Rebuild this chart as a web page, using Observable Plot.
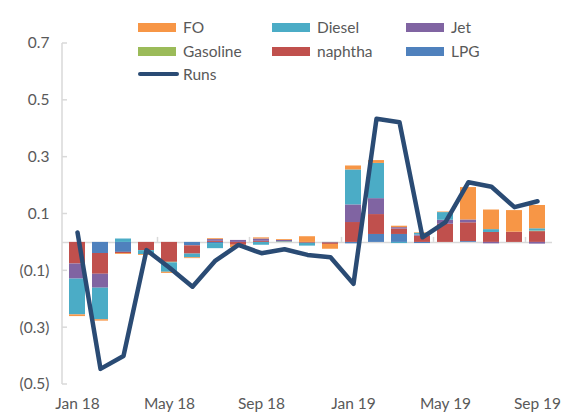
<!DOCTYPE html>
<html>
<head>
<meta charset="utf-8">
<script src="https://cdn.jsdelivr.net/npm/d3@7"></script>
<script src="https://cdn.jsdelivr.net/npm/@observablehq/plot@0.6"></script>
<style>
  html, body { margin: 0; padding: 0; background: #fff; }
  #wrap { position: relative; width: 568px; height: 416px; font-family: Lato, "Open Sans", sans-serif; }
  .leg { position: absolute; display: flex; align-items: center; font-size: 15.5px; color: #595959; white-space: nowrap; }
  .sw { width: 38px; height: 9px; margin-right: 7px; }
  .ln { width: 41px; height: 4px; border-radius: 2px; margin-right: 4px; }
</style>
</head>
<body>
<div id="wrap"></div>
<script>
const months = ["Jan 18","Feb 18","Mar 18","Apr 18","May 18","Jun 18","Jul 18","Aug 18","Sep 18","Oct 18","Nov 18","Dec 18",
                "Jan 19","Feb 19","Mar 19","Apr 19","May 19","Jun 19","Jul 19","Aug 19","Sep 19"];
const xTickLabels = ["Jan 18","May 18","Sep 18","Jan 19","May 19","Sep 19"];
const yTicks = [-0.5, -0.3, -0.1, 0.1, 0.3, 0.5, 0.7];

const LPG      = [0, -0.039, -0.035, 0, 0, -0.012, -0.004, 0, 0, 0.002, 0, -0.002, -0.005, 0.028, 0.028, -0.004, 0, 0.003, 0, 0, 0];
const naphtha  = [-0.076, -0.073, -0.004, -0.029, -0.070, -0.029, 0.004, -0.010, 0.004, 0, -0.003, -0.005, 0.070, 0.070, 0.019, 0.022, 0.064, 0.066, 0.035, 0.036, 0.038];
const Gasoline = [0, 0, 0, 0, -0.002, 0, 0, 0, 0, 0.001, 0, 0, 0, 0, 0, 0, 0, 0, 0, 0, 0.002];
const Jet      = [-0.053, -0.049, 0, 0, 0, 0, 0.006, 0.007, 0.008, 0.004, 0, 0, 0.062, 0.056, 0.005, 0.004, 0.014, 0.010, -0.005, 0, -0.006];
const Diesel   = [-0.126, -0.111, 0.012, -0.014, -0.033, -0.013, -0.018, 0, -0.010, 0, -0.010, 0, 0.123, 0.124, -0.004, 0.006, 0.027, 0, 0.010, 0, 0.008];
const FO       = [-0.006, -0.005, -0.003, -0.003, -0.004, -0.003, 0.003, -0.008, 0.004, 0.003, 0.020, -0.017, 0.014, 0.010, 0.005, 0.002, 0.002, 0.114, 0.069, 0.076, 0.082];
const Runs     = [0.035, -0.445, -0.400, -0.027, -0.089, -0.156, -0.064, -0.009, -0.038, -0.024, -0.044, -0.052, -0.146, 0.435, 0.423, 0.018, 0.071, 0.212, 0.196, 0.124, 0.145];

const stackOrder = ["LPG", "naphtha", "Gasoline", "Jet", "Diesel", "FO"];
const seriesValues = {LPG, naphtha, Gasoline, Jet, Diesel, FO};
const colors = {FO: "#F79646", Diesel: "#4BACC6", Jet: "#8064A2", Gasoline: "#9BBB59", naphtha: "#C0504D", LPG: "#4F81BD"};
const runsColor = "#2A4B74";
const legendOrder = ["FO", "Diesel", "Jet", "Gasoline", "naphtha", "LPG", "Runs"];

const table = [];
for (const s of stackOrder) months.forEach((m, i) => table.push({month: m, series: s, value: seriesValues[s][i]}));
const runsTable = months.map((m, i) => ({month: m, value: Runs[i]}));

const fmt = d => d < 0 ? `(${Math.abs(d).toFixed(1)})` : d.toFixed(1);

const chart = Plot.plot({
  width: 568, height: 416,
  marginLeft: 62, marginRight: 16, marginTop: 43, marginBottom: 32,
  style: {fontFamily: "Lato, 'Open Sans', sans-serif", fontSize: "15.5px", color: "#595959", background: "white"},
  x: {domain: months, paddingInner: 0.31, paddingOuter: 0.155, axis: null, label: null},
  y: {domain: [-0.5, 0.7], axis: null, label: null},
  color: {domain: Object.keys(colors), range: Object.values(colors)},
  marks: [
    Plot.ruleY([0], {stroke: "#d9d9d9", strokeWidth: 1.5}),
    Plot.barY(table, {x: "month", y: "value", fill: "series", order: stackOrder}),
    Plot.line(runsTable, {x: "month", y: "value", stroke: runsColor, strokeWidth: 4.5}),
    Plot.axisY(yTicks, {anchor: "left", label: null, tickSize: 0, tickPadding: 13, tickFormat: fmt, fill: "#595959", fontSize: 15.5}),
    Plot.axisX(xTickLabels, {anchor: "bottom", label: null, tickSize: 0, tickPadding: 13, fill: "#595959", fontSize: 15.5})
  ]
});

// axis lines and inside ticks, placed through the chart's own scales
const xs = chart.scale("x"), ys = chart.scale("y");
const x0 = xs.range[0];
const g = d3.select(chart).insert("g", ":first-child").attr("stroke", "#d9d9d9").attr("stroke-width", 1.5);
g.append("line").attr("x1", x0).attr("x2", x0).attr("y1", ys.apply(yTicks[0])).attr("y2", ys.apply(yTicks[yTicks.length - 1]));
for (const t of yTicks) g.append("line").attr("x1", x0).attr("x2", x0 + 5).attr("y1", ys.apply(t)).attr("y2", ys.apply(t));
const gap = (xs.step - xs.bandwidth) / 2;
months.forEach((m, i) => {
  if (i % 4 === 3 && i < months.length - 1) {
    const bx = xs.apply(m) + xs.bandwidth + gap;
    g.append("line").attr("x1", bx).attr("x2", bx).attr("y1", ys.apply(0) - 5).attr("y2", ys.apply(0));
  }
});

const wrap = document.getElementById("wrap");
wrap.appendChild(chart);

const colX = [138, 272, 406], rowY = [27, 51, 74];
legendOrder.forEach((name, i) => {
  const d = document.createElement("div");
  d.className = "leg";
  d.style.left = colX[i % 3] + "px";
  d.style.top = (rowY[Math.floor(i / 3)] - 10) + "px";
  d.style.height = "20px";
  const sw = document.createElement("div");
  if (name === "Runs") { sw.className = "ln"; sw.style.background = runsColor; }
  else { sw.className = "sw"; sw.style.background = colors[name]; }
  d.appendChild(sw);
  const t = document.createElement("span");
  t.textContent = name;
  d.appendChild(t);
  wrap.appendChild(d);
});
</script>
</body>
</html>
